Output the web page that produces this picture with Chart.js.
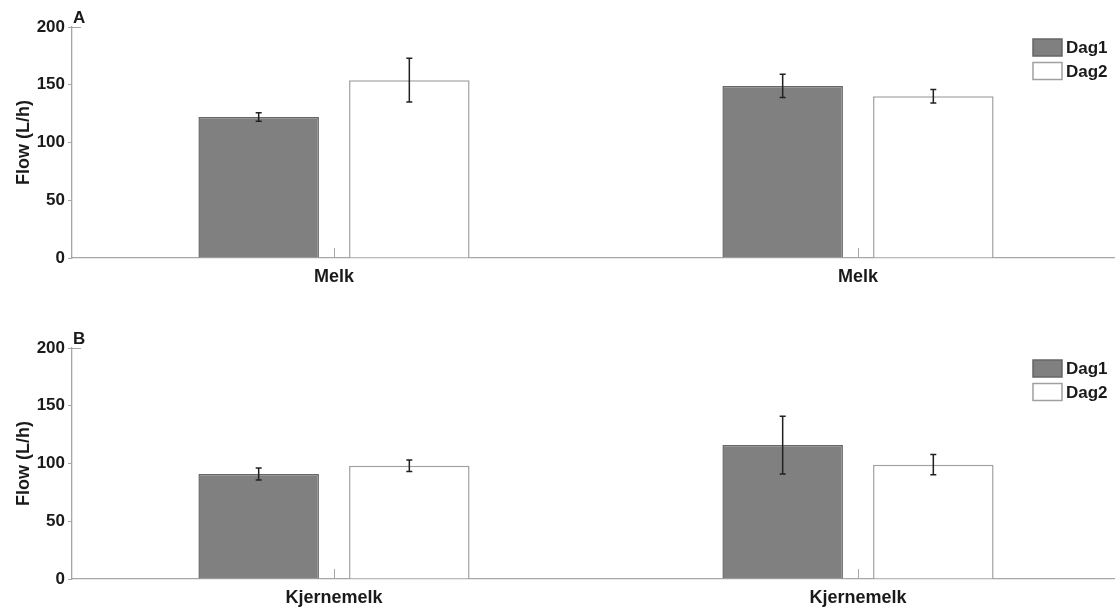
<!DOCTYPE html>
<html>
<head>
<meta charset="utf-8">
<title>Flow (L/h)</title>
<script src="https://cdn.jsdelivr.net/npm/chart.js@4.4.1/dist/chart.umd.min.js"></script>
<style>
  html, body { margin: 0; padding: 0; background: #fff; overflow: hidden; width: 1115px; height: 610px; }
  .panel { position: absolute; left: 0; }
  #wrapA { top: 0; }
  #wrapB { top: 321px; }
</style>
</head>
<body>
<div id="wrapA" class="panel"><canvas id="chartA" width="1122" height="305"></canvas></div>
<div id="wrapB" class="panel"><canvas id="chartB" width="1122" height="305"></canvas></div>
<script>
// Series
const seriesNames = ['Dag1', 'Dag2'];

// Panel A: Melk
const categoriesA = ['Melk', 'Melk'];
const dag1A = [122, 149];
const dag1ErrA = [3.7, 10];
const dag2A = [154, 140];
const dag2ErrA = [19, 5.8];

// Panel B: Kjernemelk
const categoriesB = ['Kjernemelk', 'Kjernemelk'];
const dag1B = [91, 116];
const dag1ErrB = [5.2, 25];
const dag2B = [98, 99];
const dag2ErrB = [5, 8.8];

// Y axis ticks
const yTicks = [0, 50, 100, 150, 200];

const FONT = '"Liberation Sans", Arial, Helvetica, sans-serif';
const TEXT = '#1a1a1a';
const AXIS = '#a6a6a6';
const fills = ['#808080', '#ffffff'];
const borders = ['#666666', '#a0a0a0'];

// Error bars drawn from each dataset's "errors" array
const errorBars = {
  id: 'errorBars',
  afterDatasetsDraw(chart) {
    const ctx = chart.ctx;
    const y = chart.scales.y;
    ctx.save();
    ctx.strokeStyle = '#202020';
    ctx.lineWidth = 1.5;
    chart.data.datasets.forEach((ds, i) => {
      const meta = chart.getDatasetMeta(i);
      meta.data.forEach((bar, j) => {
        const v = ds.data[j], e = ds.errors[j];
        const x = bar.x;
        const yt = y.getPixelForValue(v + e);
        const yb = y.getPixelForValue(v - e);
        ctx.beginPath();
        ctx.moveTo(x, yt); ctx.lineTo(x, yb);
        ctx.moveTo(x - 3, yt); ctx.lineTo(x + 3, yt);
        ctx.moveTo(x - 3, yb); ctx.lineTo(x + 3, yb);
        ctx.stroke();
      });
    });
    ctx.restore();
  }
};

// Inward tick marks at the category centres, panel letter and boxed legend
const decorations = {
  id: 'decorations',
  afterDraw(chart, args, opts) {
    const ctx = chart.ctx;
    const area = chart.chartArea;
    const xs = chart.scales.x;
    ctx.save();
    ctx.strokeStyle = AXIS;
    ctx.lineWidth = 1;
    chart.data.labels.forEach((_, i) => {
      const px = Math.round(xs.getPixelForValue(i)) + 0.5;
      ctx.beginPath();
      ctx.moveTo(px, area.bottom);
      ctx.lineTo(px, area.bottom - 10);
      ctx.stroke();
    });
    // top tick of the y axis
    ctx.beginPath();
    ctx.moveTo(area.left, area.top + 0.5);
    ctx.lineTo(area.left + 9, area.top + 0.5);
    ctx.stroke();

    // panel letter
    ctx.fillStyle = TEXT;
    ctx.font = 'bold 17px ' + FONT;
    ctx.textAlign = 'left';
    ctx.textBaseline = 'alphabetic';
    ctx.fillText(opts.letter, area.left + 1, area.top - 4);

    // legend
    const bx = 1033, bw = 29, bh = 17;
    ctx.font = 'bold 17px ' + FONT;
    ctx.textBaseline = 'middle';
    chart.data.datasets.forEach((ds, i) => {
      const by = area.top + 12 + i * 23.5;
      ctx.fillStyle = ds.backgroundColor;
      ctx.fillRect(bx, by, bw, bh);
      ctx.strokeStyle = ds.borderColor;
      ctx.lineWidth = 1.5;
      ctx.strokeRect(bx, by, bw, bh);
      ctx.fillStyle = TEXT;
      ctx.fillText(ds.label, bx + bw + 4, by + bh / 2 + 1);
    });
    ctx.restore();
  }
};

function makeChart(id, labels, d1, e1, d2, e2, letter) {
  const datasets = [
    { label: seriesNames[0], data: d1, errors: e1 },
    { label: seriesNames[1], data: d2, errors: e2 }
  ].map((ds, i) => Object.assign(ds, {
    backgroundColor: fills[i],
    borderColor: borders[i],
    borderWidth: 1.5,
    categoryPercentage: 0.575,
    barPercentage: 0.8
  }));

  return new Chart(document.getElementById(id), {
    type: 'bar',
    data: { labels: labels, datasets: datasets },
    plugins: [errorBars, decorations],
    options: {
      responsive: false,
      devicePixelRatio: 1,
      animation: false,
      layout: { padding: { top: 27, right: 2, bottom: 0, left: 0 } },
      plugins: {
        legend: { display: false },
        tooltip: { enabled: false },
        decorations: { letter: letter }
      },
      scales: {
        x: {
          type: 'category',
          offset: true,
          grid: { display: false, offset: false },
          border: { display: true, color: AXIS, width: 1.3 },
          ticks: {
            color: TEXT,
            padding: 0,
            maxRotation: 0,
            autoSkip: false,
            font: { family: FONT, size: 18, weight: 'bold' }
          },
          afterFit(scale) { scale.height = 47; }
        },
        y: {
          min: 0,
          max: 200,
          afterBuildTicks(scale) { scale.ticks = yTicks.map(v => ({ value: v })); },
          grid: {
            drawOnChartArea: false,
            drawTicks: true,
            tickLength: 4,
            color: AXIS,
            lineWidth: 1
          },
          border: { display: true, color: AXIS, width: 1.3 },
          ticks: {
            color: TEXT,
            padding: 3,
            font: { family: FONT, size: 17, weight: 'bold' }
          },
          title: {
            display: true,
            text: 'Flow (L/h)',
            color: TEXT,
            padding: { top: 13, bottom: 0 },
            font: { family: FONT, size: 18, weight: 'bold' }
          },
          afterFit(scale) { scale.width = 72; }
        }
      }
    }
  });
}

makeChart('chartA', categoriesA, dag1A, dag1ErrA, dag2A, dag2ErrA, 'A');
makeChart('chartB', categoriesB, dag1B, dag1ErrB, dag2B, dag2ErrB, 'B');
</script>
</body>
</html>
